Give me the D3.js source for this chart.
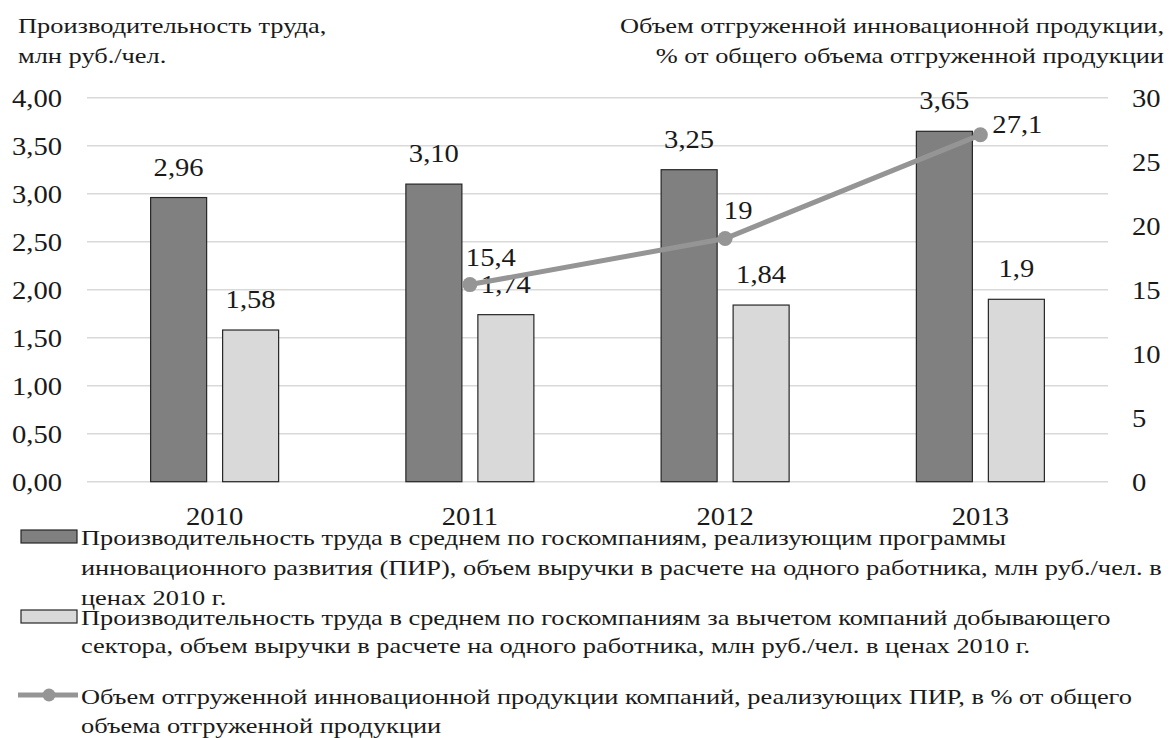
<!DOCTYPE html>
<html>
<head>
<meta charset="utf-8">
<script src="https://cdn.jsdelivr.net/npm/d3@7"></script>
<style>
  body { margin: 0; background: #fff; }
</style>
</head>
<body>
<div id="svgContainer"></div>
<script>
// chart data
const years = ["2010", "2011", "2012", "2013"];
const productivityPir = [2.96, 3.10, 3.25, 3.65];
const productivityExMining = [1.58, 1.74, 1.84, 1.90];
const productivityExMiningLabels = ["1,58", "1,74", "1,84", "1,9"];
const innovShare = [null, 15.4, 19, 27.1];

const leftTicks = [0, 0.5, 1, 1.5, 2, 2.5, 3, 3.5, 4];
const rightTicks = [0, 5, 10, 15, 20, 25, 30];

const leftTitle = ["Производительность труда,", "млн руб./чел."];
const rightTitle = ["Объем отгруженной инновационной продукции,", "% от общего объема отгруженной продукции"];

const legendLines = [
    ["Производительность труда в среднем по госкомпаниям, реализующим программы",
     "инновационного развития (ПИР), объем выручки в расчете на одного работника, млн руб./чел. в",
     "ценах 2010 г."],
    ["Производительность труда в среднем по госкомпаниям за вычетом компаний добывающего",
     "сектора, объем выручки в расчете на одного работника, млн руб./чел. в ценах 2010 г."],
    ["Объем отгруженной инновационной продукции компаний, реализующих ПИР, в % от общего",
     "объема отгруженной продукции"]
];

const width = 1172;
const height = 738;
const font = "Liberation Serif";
const textColor = "#1a1a1a";
const darkFill = "#808080";
const lightFill = "#d9d9d9";
const lineColor = "#959595";

// the source picture is stretched sideways, so text is widened a bit
const numSize = 26, numStretch = 1.1;
const txtSize = 22, txtStretch = 1.2;

const svg = d3.select("#svgContainer").append("svg")
    .attr("width", width)
    .attr("height", height)
    .style("font-family", font);

svg.append("rect").attr("width", width).attr("height", height).attr("fill", "#fff");

const plotLeft = 87, plotRight = 1108, plotTop = 97.7, plotBottom = 481.7;

const x = d3.scaleBand().domain(years).range([plotLeft, plotRight]).padding(0);
const inner = d3.scaleBand().domain([0, 1]).range([-64, 64]).paddingInner(0.222);
const y = d3.scaleLinear().domain([0, 4]).range([plotBottom, plotTop]);
const y2 = d3.scaleLinear().domain([0, 30]).range([plotBottom, plotTop]);

const fmt2 = v => d3.format(".2f")(v).replace(".", ",");

// put a text at (px, py), widened around its anchor
function stretchText(sel, px, py, sx) {
    sel.attr("transform", (d, i) => {
        const xx = typeof px === "function" ? px(d, i) : px;
        const yy = typeof py === "function" ? py(d, i) : py;
        return `translate(${xx},${yy}) scale(${sx},1)`;
    });
}

// gridlines
svg.append("g")
    .selectAll("line")
    .data(leftTicks)
    .join("line")
    .attr("x1", plotLeft)
    .attr("x2", plotRight)
    .attr("y1", d => y(d))
    .attr("y2", d => y(d))
    .attr("stroke", "#d9d9d9")
    .attr("stroke-width", 1.5);

function styleAxis(g) {
    g.attr("font-family", null).attr("font-size", null);
    g.select(".domain").remove();
    g.selectAll("text")
        .attr("font-size", numSize)
        .style("font-family", font)
        .attr("fill", textColor)
        .attr("transform", `scale(${numStretch},1)`);
}

// left axis
svg.append("g")
    .attr("transform", "translate(62,0)")
    .call(d3.axisLeft(y).tickValues(leftTicks).tickFormat(fmt2).tickSize(0).tickPadding(0))
    .call(styleAxis);

// right axis
svg.append("g")
    .attr("transform", "translate(1132,0)")
    .call(d3.axisRight(y2).tickValues(rightTicks).tickSize(0).tickPadding(0))
    .call(styleAxis);

// x axis labels
svg.append("g")
    .attr("transform", `translate(0,${plotBottom})`)
    .call(d3.axisBottom(x).tickSize(0).tickPadding(0))
    .call(styleAxis)
    .call(g => g.selectAll("text").attr("dy", null).attr("y", 43));

// bars
const series = [
    {values: productivityPir, labels: productivityPir.map(fmt2), fill: darkFill},
    {values: productivityExMining, labels: productivityExMiningLabels, fill: lightFill}
];

series.forEach((s, si) => {
    const g = svg.append("g");
    const barX = (d, i) => x(years[i]) + x.bandwidth() / 2 + inner(si);
    g.selectAll("rect")
        .data(s.values)
        .join("rect")
        .attr("x", barX)
        .attr("y", d => y(d))
        .attr("width", inner.bandwidth())
        .attr("height", d => plotBottom - y(d))
        .attr("fill", s.fill)
        .attr("stroke", "#262626")
        .attr("stroke-width", 1.2);
    g.selectAll("text")
        .data(s.values)
        .join("text")
        .attr("text-anchor", "middle")
        .attr("font-size", numSize)
        .attr("fill", textColor)
        .text((d, i) => s.labels[i])
        .call(stretchText, (d, i) => barX(d, i) + inner.bandwidth() / 2, d => y(d) - 22, numStretch);
});

// line series on right axis
const linePts = innovShare
    .map((v, i) => ({year: years[i], v}))
    .filter(d => d.v !== null);
const cx = d => x(d.year) + x.bandwidth() / 2;

svg.append("path")
    .datum(linePts)
    .attr("fill", "none")
    .attr("stroke", lineColor)
    .attr("stroke-width", 5)
    .attr("d", d3.line().x(cx).y(d => y2(d.v)));

svg.append("g")
    .selectAll("circle")
    .data(linePts)
    .join("circle")
    .attr("cx", cx)
    .attr("cy", d => y2(d.v))
    .attr("r", 7.5)
    .attr("fill", lineColor);

const lineLabelOffsets = [[21, -19], [13, -20], [37, -2]];
svg.append("g")
    .selectAll("text")
    .data(linePts)
    .join("text")
    .attr("text-anchor", "middle")
    .attr("font-size", numSize)
    .attr("fill", textColor)
    .text(d => String(d.v).replace(".", ","))
    .call(stretchText, (d, i) => cx(d) + lineLabelOffsets[i][0], (d, i) => y2(d.v) + lineLabelOffsets[i][1], numStretch);

// axis titles
svg.append("g")
    .selectAll("text")
    .data(leftTitle)
    .join("text")
    .attr("font-size", txtSize)
    .attr("fill", textColor)
    .text(d => d)
    .call(stretchText, 18, (d, i) => 33 + i * 30, txtStretch);

svg.append("g")
    .selectAll("text")
    .data(rightTitle)
    .join("text")
    .attr("text-anchor", "end")
    .attr("font-size", txtSize)
    .attr("fill", textColor)
    .text(d => d)
    .call(stretchText, 1164, (d, i) => 33 + i * 30, txtStretch);

// legend
const legend = svg.append("g");
const legendTop = [545, 625, 704];
const lineStep = [30, 28, 29];

legend.append("rect")
    .attr("x", 21).attr("y", 530).attr("width", 56).attr("height", 13)
    .attr("fill", darkFill).attr("stroke", "#262626").attr("stroke-width", 1.2);
legend.append("rect")
    .attr("x", 21).attr("y", 610).attr("width", 56).attr("height", 13)
    .attr("fill", lightFill).attr("stroke", "#262626").attr("stroke-width", 1.2);
legend.append("line")
    .attr("x1", 18).attr("x2", 78).attr("y1", 695).attr("y2", 695)
    .attr("stroke", lineColor).attr("stroke-width", 5);
legend.append("circle")
    .attr("cx", 49).attr("cy", 695).attr("r", 6.5).attr("fill", lineColor);

legendLines.forEach((lines, k) => {
    legend.append("g")
        .selectAll("text")
        .data(lines)
        .join("text")
        .attr("font-size", txtSize)
        .attr("fill", textColor)
        .text(d => d)
        .call(stretchText, 81, (d, i) => legendTop[k] + i * lineStep[k], txtStretch);
});
</script>
</body>
</html>
